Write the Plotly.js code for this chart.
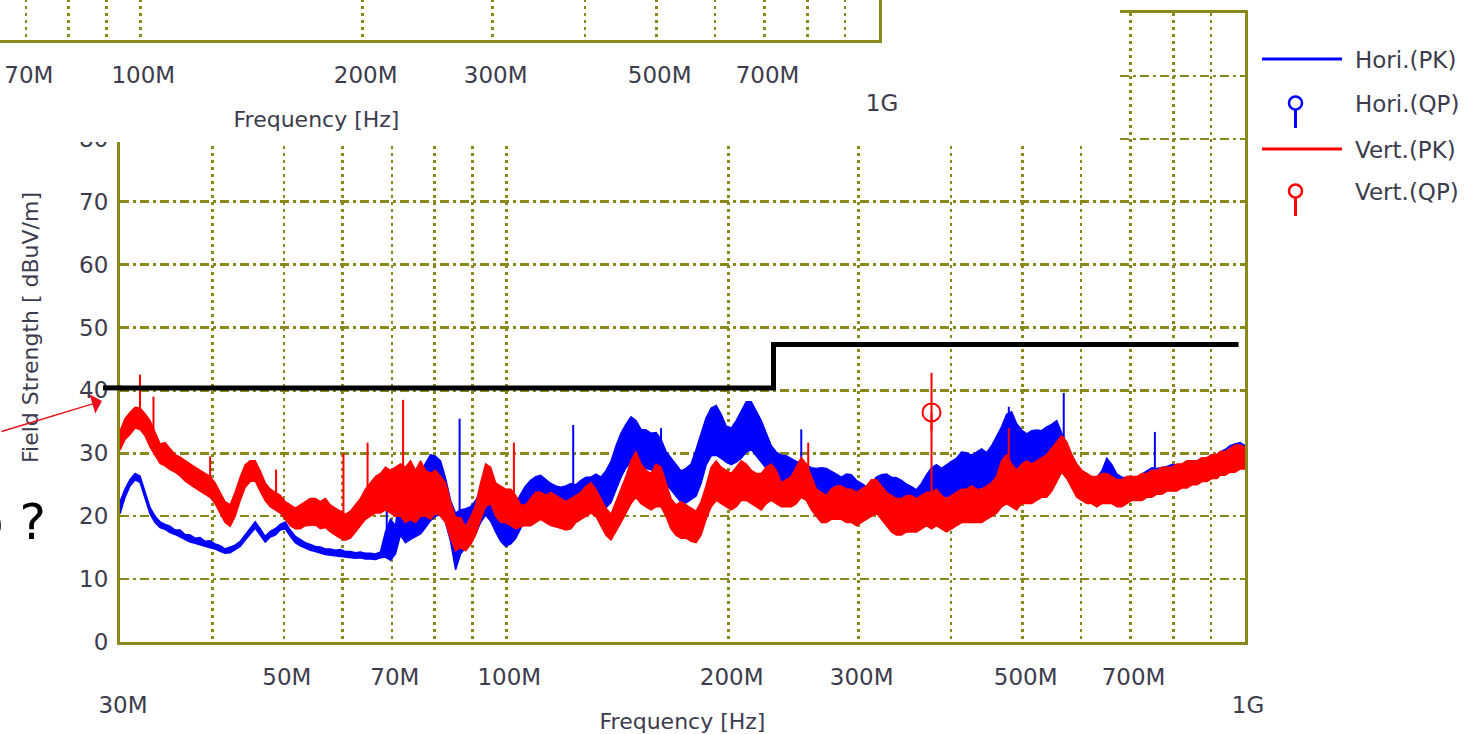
<!DOCTYPE html>
<html>
<head>
<meta charset="utf-8">
<script src="https://cdn.plot.ly/plotly-3.0.1.min.js"></script>
<style>
  html, body { margin: 0; padding: 0; background: #fff; }
  #wrap { position: relative; width: 1468px; height: 734px; overflow: hidden; background: #fff; }
  #main { position: absolute; left: 0; top: 0; width: 1468px; height: 734px; }
  #topclip { position: absolute; left: 0; top: 0; width: 1120px; height: 142px; overflow: hidden; background: #fff; }
  #top { position: absolute; left: -366px; top: -602px; width: 1468px; height: 734px; }
</style>
</head>
<body>
<div id="wrap">
  <div id="main"></div>
  <div id="topclip"><div id="top"></div></div>
</div>
<script>
// ---------------- DATA ----------------
const freqMHz = [
  30.00, 30.47, 30.95, 31.44, 31.93, 32.43, 32.94, 33.46, 33.99, 34.52,
  35.06, 35.61, 36.18, 36.74, 37.32, 37.91, 38.51, 39.11, 39.73, 40.35,
  40.99, 41.63, 42.29, 42.95, 43.63, 44.32, 45.02, 45.72, 46.44, 47.17,
  47.92, 48.67, 49.44, 50.22, 51.01, 51.81, 52.62, 53.45, 54.29, 55.15,
  56.02, 56.90, 57.79, 58.70, 59.63, 60.56, 61.52, 62.49, 63.47, 64.47,
  65.48, 66.51, 67.56, 68.62, 69.70, 70.80, 71.91, 73.04, 74.19, 75.36,
  76.55, 77.75, 78.97, 80.22, 81.48, 82.76, 84.06, 85.38, 86.73, 88.09,
  89.48, 90.89, 92.32, 93.77, 95.25, 96.75, 98.27, 99.81, 101.4, 103.0,
  104.6, 106.2, 107.9, 109.6, 111.3, 113.1, 114.9, 116.7, 118.5, 120.4,
  122.3, 124.2, 126.2, 128.2, 130.2, 132.2, 134.3, 136.4, 138.6, 140.8,
  143.0, 145.2, 147.5, 149.8, 152.2, 154.6, 157.0, 159.5, 162.0, 164.5,
  167.1, 169.7, 172.4, 175.1, 177.9, 180.7, 183.5, 186.4, 189.4, 192.4,
  195.4, 198.5, 201.6, 204.8, 208.0, 211.3, 214.6, 218.0, 221.4, 224.9,
  228.4, 232.0, 235.6, 239.3, 243.1, 246.9, 250.8, 254.8, 258.8, 262.9,
  267.0, 271.2, 275.4, 279.8, 284.2, 288.7, 293.2, 297.8, 302.5, 307.3,
  312.1, 317.0, 322.0, 327.1, 332.2, 337.4, 342.7, 348.1, 353.6, 359.2,
  364.8, 370.6, 376.4, 382.3, 388.3, 394.4, 400.6, 406.9, 413.3, 419.8,
  426.4, 433.1, 440.0, 446.9, 453.9, 461.0, 468.3, 475.7, 483.2, 490.8,
  498.5, 506.3, 514.3, 522.4, 530.6, 539.0, 547.5, 556.1, 564.8, 573.7,
  582.8, 591.9, 601.2, 610.7, 620.3, 630.1, 640.0, 650.1, 660.3, 670.7,
  681.2, 691.9, 702.8, 713.9, 725.1, 736.5, 748.1, 759.9, 771.9, 784.0,
  796.3, 808.8, 821.6, 834.5, 847.7, 861.0, 874.6, 888.3, 902.3, 916.5,
  925.1, 940.0, 954.3, 969.3, 984.5, 1000
];

// Horizontal polarisation, peak detector: upper / lower edge of the trace band (dBuV/m)
const horiPKMax = [
  22.3, 24.3, 25.8, 26.8, 26.4, 24.0, 21.4, 20.0, 19.1, 18.7,
  18.4, 17.8, 17.8, 17.1, 17.0, 16.5, 16.6, 16.0, 16.1, 15.6,
  15.3, 14.8, 15.1, 15.4, 16.0, 17.0, 18.1, 19.1, 18.0, 16.8,
  17.6, 18.0, 18.7, 19.1, 17.8, 16.8, 16.3, 15.8, 15.5, 15.2,
  15.1, 14.8, 14.8, 14.6, 14.7, 14.4, 14.4, 14.2, 14.3, 14.1,
  14.1, 14.0, 14.3, 17.5, 19.5, 18.5, 24.5, 26.5, 27.5, 26.5,
  27.0, 28.5, 29.8, 29.5, 28.8, 26.0, 22.5, 20.5, 21.0, 21.2,
  21.5, 22.5, 24.0, 25.5, 24.5, 22.5, 21.0, 20.3, 21.0, 22.0,
  23.5, 24.8, 25.7, 26.3, 26.5, 25.8, 25.2, 24.8, 24.6, 24.8,
  25.2, 25.0, 25.7, 26.2, 26.2, 26.7, 26.2, 27.2, 28.7, 31.2,
  33.2, 34.6, 35.8, 35.2, 33.8, 33.7, 33.2, 33.3, 32.2, 30.3,
  29.2, 28.2, 27.2, 27.6, 28.3, 30.6, 33.2, 35.6, 37.2, 37.6,
  36.2, 34.3, 34.0, 35.2, 36.7, 38.2, 38.2, 36.7, 35.2, 33.2,
  31.2, 30.2, 29.7, 29.6, 29.2, 28.7, 28.6, 28.2, 27.7, 27.6,
  27.7, 27.6, 27.2, 26.7, 26.2, 26.7, 26.6, 25.7, 25.2, 24.7,
  25.2, 26.2, 26.6, 26.7, 26.2, 26.1, 25.7, 25.1, 24.7, 24.2,
  25.2, 26.6, 27.7, 28.2, 27.6, 28.2, 28.7, 29.2, 30.2, 30.1,
  29.7, 30.2, 30.7, 30.1, 31.2, 32.7, 34.2, 36.2, 36.6, 34.7,
  33.7, 33.1, 33.6, 33.7, 33.6, 34.2, 34.6, 35.2, 33.2, 31.2,
  29.7, 28.2, 27.2, 26.2, 25.7, 26.2, 27.2, 29.2, 28.2, 26.7,
  26.2, 26.1, 26.2, 26.2, 26.7, 27.2, 27.7, 27.6, 27.7, 27.9,
  28.2, 28.1, 28.2, 28.5, 28.7, 28.8, 29.2, 29.3, 29.7, 29.8,
  30.2, 30.6, 31.2, 31.5, 31.7, 31.2
];
const horiPKMin = [
  20.4, 23.0, 24.8, 25.8, 25.4, 22.8, 20.4, 19.0, 18.2, 17.9,
  17.4, 17.1, 16.7, 16.4, 15.9, 15.7, 15.4, 15.2, 15.0, 14.8,
  14.4, 14.1, 14.2, 14.7, 15.2, 16.2, 17.2, 18.1, 17.0, 15.9,
  16.7, 17.0, 17.8, 18.0, 16.8, 15.8, 15.3, 14.9, 14.6, 14.4,
  14.1, 13.9, 13.8, 13.7, 13.7, 13.5, 13.5, 13.3, 13.4, 13.2,
  13.2, 13.1, 13.4, 13.5, 13.0, 14.0, 17.0, 15.8, 16.3, 16.8,
  17.2, 18.2, 19.3, 20.0, 20.3, 19.0, 16.0, 11.5, 14.0, 15.0,
  16.0, 17.2, 19.0, 20.2, 19.2, 17.5, 16.0, 15.2, 15.6, 16.5,
  18.2, 19.6, 20.2, 20.6, 21.0, 20.6, 20.2, 20.0, 20.0, 20.2,
  20.6, 20.2, 20.3, 20.8, 20.6, 21.2, 20.6, 21.3, 22.2, 24.2,
  26.2, 27.7, 28.6, 28.2, 27.6, 27.6, 27.4, 27.2, 27.0, 25.2,
  24.2, 23.2, 22.2, 22.1, 22.6, 23.2, 25.2, 28.1, 29.6, 29.7,
  29.2, 28.6, 28.2, 28.6, 29.2, 30.2, 30.6, 29.6, 28.6, 27.6,
  26.6, 26.1, 25.6, 25.1, 24.6, 23.6, 23.1, 22.6, 22.1, 22.1,
  22.6, 22.6, 22.6, 22.1, 22.1, 22.2, 22.0, 21.1, 21.0, 20.6,
  20.6, 21.1, 21.1, 21.0, 20.6, 20.6, 20.5, 20.1, 20.0, 19.6,
  20.1, 20.6, 21.1, 22.1, 22.6, 23.1, 23.1, 23.6, 24.1, 24.0,
  24.1, 24.0, 24.6, 24.1, 25.1, 26.1, 27.1, 28.1, 28.1, 27.6,
  27.1, 27.0, 27.6, 27.6, 28.1, 28.1, 28.6, 29.1, 29.1, 28.6,
  27.1, 25.6, 24.6, 23.6, 23.1, 23.1, 23.1, 24.1, 23.6, 23.6,
  23.6, 23.6, 24.1, 24.1, 24.1, 24.6, 25.1, 25.1, 25.1, 25.3,
  25.6, 25.6, 25.6, 25.8, 26.1, 26.2, 26.2, 26.4, 26.6, 26.8,
  27.1, 27.3, 27.6, 27.8, 28.1, 28.0
];

// Vertical polarisation, peak detector
const vertPKMax = [
  33.5, 35.5, 36.5, 37.3, 37.2, 36.3, 35.2, 33.3, 31.5, 31.7,
  30.8, 29.8, 29.4, 28.8, 28.3, 27.8, 27.3, 26.8, 26.3, 25.3,
  23.8, 22.3, 21.8, 23.8, 26.2, 28.2, 28.8, 28.8, 27.2, 25.3,
  24.3, 23.8, 23.3, 22.3, 21.8, 21.3, 21.8, 22.3, 22.8, 22.8,
  22.3, 22.8, 21.8, 21.3, 20.8, 20.3, 20.8, 21.8, 22.8, 24.3,
  25.3, 26.3, 26.8, 27.8, 27.3, 27.8, 28.3, 27.8, 28.8, 27.3,
  28.8, 27.3, 26.8, 27.3, 26.3, 25.3, 22.3, 19.8, 19.8, 18.3,
  19.8, 21.8, 25.3, 28.3, 27.8, 25.3, 24.8, 24.3, 24.3, 23.3,
  21.8, 21.8, 22.8, 23.8, 23.8, 23.3, 23.8, 23.3, 22.8, 22.3,
  22.8, 23.3, 23.8, 24.8, 25.3, 24.3, 22.8, 21.3, 20.3, 22.3,
  24.3, 26.3, 28.8, 30.3, 28.3, 27.3, 26.8, 28.3, 27.8, 25.3,
  22.8, 21.8, 22.3, 21.8, 21.3, 20.8, 22.3, 24.8, 27.8, 28.8,
  27.8, 27.3, 26.8, 27.8, 28.8, 28.3, 27.3, 26.8, 26.8, 27.8,
  28.3, 27.3, 25.3, 25.8, 26.3, 27.8, 29.3, 28.3, 26.3, 24.3,
  23.8, 23.3, 24.3, 24.8, 24.8, 24.3, 24.3, 23.8, 24.3, 24.8,
  25.8, 25.8, 24.8, 23.8, 23.3, 22.8, 22.8, 23.3, 23.3, 22.8,
  23.3, 23.8, 23.8, 24.3, 23.3, 22.8, 23.3, 23.8, 24.3, 24.3,
  24.8, 24.3, 24.3, 24.8, 25.3, 26.3, 28.8, 29.8, 28.3, 27.3,
  28.3, 28.8, 28.3, 28.8, 29.3, 29.8, 30.8, 31.8, 32.8, 31.8,
  29.8, 28.3, 27.3, 26.8, 26.3, 26.3, 26.8, 26.8, 26.3, 25.8,
  25.8, 26.3, 26.3, 26.3, 26.8, 26.8, 27.3, 27.3, 27.8, 27.8,
  27.8, 28.3, 28.3, 28.8, 28.8, 28.8, 29.3, 29.3, 29.8, 29.8,
  30.3, 30.3, 30.8, 31.3, 31.3, 31.0
];
const vertPKMin = [
  30.5, 32.2, 33.0, 34.0, 33.8, 32.8, 31.0, 29.8, 28.4, 28.0,
  27.4, 27.0, 26.4, 25.6, 25.0, 24.5, 24.0, 23.5, 23.0, 22.0,
  20.5, 19.0, 18.4, 20.0, 22.5, 24.6, 25.5, 25.6, 24.0, 22.5,
  21.5, 21.0, 20.5, 19.5, 18.5, 18.0, 18.0, 18.5, 18.5, 18.6,
  18.0, 18.2, 17.5, 17.0, 16.5, 16.2, 16.5, 17.5, 18.5, 19.5,
  20.0, 20.5, 20.5, 21.0, 20.5, 20.0, 20.0, 19.0, 19.5, 19.0,
  20.0, 20.0, 19.5, 20.5, 20.0, 19.0, 16.5, 14.5, 15.0, 14.5,
  15.5, 17.0, 19.5, 21.5, 22.0, 20.0, 19.0, 19.0, 18.5, 18.0,
  18.3, 18.5, 18.5, 19.0, 19.5, 19.0, 18.5, 18.3, 18.0, 17.8,
  18.0, 19.0, 19.5, 20.0, 20.5, 20.0, 18.5, 17.0, 16.2, 17.5,
  19.0, 20.5, 22.0, 23.0, 22.0, 21.5, 21.0, 21.5, 21.5, 20.0,
  18.0, 17.0, 16.5, 16.5, 16.0, 15.8, 17.0, 19.5, 21.5, 22.5,
  22.0, 21.5, 21.0, 21.5, 22.5, 22.5, 22.0, 21.5, 21.0, 22.0,
  22.5, 22.0, 21.5, 21.5, 21.5, 22.0, 23.0, 22.5, 21.0, 20.0,
  19.0, 19.0, 19.5, 19.5, 19.5, 19.0, 19.0, 18.5, 19.0, 19.5,
  20.0, 20.5, 19.5, 18.5, 17.5, 17.0, 17.0, 17.5, 17.5, 17.5,
  18.0, 18.5, 18.0, 18.5, 18.0, 17.5, 18.0, 18.5, 19.0, 19.0,
  19.0, 19.0, 19.0, 19.5, 20.0, 20.5, 21.5, 22.0, 21.5, 21.0,
  22.0, 22.0, 22.0, 22.5, 23.0, 23.0, 24.0, 25.5, 27.0, 26.0,
  24.5, 23.0, 22.5, 22.0, 22.0, 21.5, 22.0, 22.0, 22.0, 21.5,
  21.5, 22.0, 22.5, 22.5, 22.5, 23.0, 23.0, 23.5, 23.5, 24.0,
  24.0, 24.0, 24.5, 24.5, 25.0, 25.0, 25.5, 25.5, 26.0, 26.0,
  26.5, 26.5, 27.0, 27.0, 27.5, 27.5
];

// narrow spikes (frequency MHz, band level, peak level)
const horiSpikeFreq = [68.9, 86.46, 123.2, 162.0, 250.8, 478.9, 568.4, 755.1];
const horiSpikeBase = [14.0, 18.0, 22.0, 30.0, 26.0, 30.0, 30.0, 26.0];
const horiSpikeTop  = [21.0, 35.5, 34.5, 34.0, 33.8, 37.4, 39.6, 33.4];
const vertSpikeFreq = [31.93, 33.30, 39.73, 48.8, 60.2, 64.9, 72.5, 102.4, 256.3, 376.4, 478.9];
const vertSpikeBase = [35.0, 32.0, 24.0, 21.0, 18.0, 20.0, 22.0, 20.0, 24.0, 20.0, 25.0];
const vertSpikeTop  = [42.5, 39.0, 29.5, 27.4, 30.0, 31.7, 38.5, 31.7, 31.7, 42.8, 34.0];

// quasi-peak result
const vertQPFreq = [376.4];
const vertQPVal  = [36.5];

// limit line
const limitFreq = [30, 230, 230, 980];
const limitVal  = [40.4, 40.4, 47.3, 47.3];

const seriesNames = ['Hori.(PK)', 'Hori.(QP)', 'Vert.(PK)', 'Vert.(QP)'];
const seriesColors = ['#0000ff', '#0000ff', '#ff0000', '#ff0000'];

const xTickVals = [50, 70, 100, 200, 300, 500, 700];
const xTickText = ['50M', '70M', '100M', '200M', '300M', '500M', '700M'];
const xEdgeTickVals = [30, 1000];
const xEdgeTickText = ['30M', '1G'];
const xMinorGrid = [40, 60, 80, 90, 400, 600, 800, 900];
const yTickVals = [0, 10, 20, 30, 40, 50, 60, 70, 80, 90, 100];
const yTickText = ['0', '10', '20', '30', '40', '50', '60', '70', '80', '90', '100'];

// ---------------- FIGURE ----------------
const W = 1468, H = 734;
const FONT = 'DejaVu Sans, Verdana, sans-serif';
const TXT = '#3c3c4c';
const OLIVE = '#88881c';
const xDom = [120 / W, 1245 / W];
const yDom = [1 - 642 / H, 1 - 13 / H];
const xRange = [Math.log10(30), 3];

function spikeXY(f, base, top) {
  const x = [], y = [];
  f.forEach((v, i) => { x.push(v, v, null); y.push(base[i], top[i], null); });
  return { x, y };
}

function buildTraces() {
  const hs = spikeXY(horiSpikeFreq, horiSpikeBase, horiSpikeTop);
  const vs = spikeXY(vertSpikeFreq, vertSpikeBase, vertSpikeTop);
  return [
    { x: freqMHz, y: horiPKMin, type: 'scatter', mode: 'lines', name: seriesNames[0],
      line: { color: seriesColors[0], width: 1.5 }, showlegend: false, hoverinfo: 'skip' },
    { x: freqMHz, y: horiPKMax, type: 'scatter', mode: 'lines', name: seriesNames[0],
      line: { color: seriesColors[0], width: 1.5 }, fill: 'tonexty', fillcolor: seriesColors[0],
      showlegend: false, hoverinfo: 'skip' },
    { x: hs.x, y: hs.y, type: 'scatter', mode: 'lines', name: seriesNames[0],
      line: { color: seriesColors[0], width: 2 }, showlegend: false, hoverinfo: 'skip' },
    { x: freqMHz, y: vertPKMin, type: 'scatter', mode: 'lines', name: seriesNames[2],
      line: { color: seriesColors[2], width: 1.5 }, showlegend: false, hoverinfo: 'skip' },
    { x: freqMHz, y: vertPKMax, type: 'scatter', mode: 'lines', name: seriesNames[2],
      line: { color: seriesColors[2], width: 1.5 }, fill: 'tonexty', fillcolor: seriesColors[2],
      showlegend: false, hoverinfo: 'skip' },
    { x: vs.x, y: vs.y, type: 'scatter', mode: 'lines', name: seriesNames[2],
      line: { color: seriesColors[2], width: 2 }, showlegend: false, hoverinfo: 'skip' },
    { x: limitFreq, y: limitVal, type: 'scatter', mode: 'lines', name: 'Limit',
      line: { color: '#000000', width: 5 }, showlegend: false, hoverinfo: 'skip' },
    { x: vertQPFreq, y: vertQPVal, type: 'scatter', mode: 'markers', name: seriesNames[3],
      xaxis: 'x2', yaxis: 'y',
      marker: { symbol: 'circle-open', size: 18, color: seriesColors[3], line: { width: 2, color: seriesColors[3] } },
      error_y: { type: 'data', symmetric: false, array: [0], arrayminus: [3], color: seriesColors[3], thickness: 2, width: 0 },
      showlegend: false, hoverinfo: 'skip' }
  ];
}

function px(x) { return x / W; }
function py(y) { return 1 - y / H; }

function buildLayout() {
  const tickFont = { family: FONT, size: 23, color: TXT };
  const shapes = [
    // limit line continues a little left of the frame
    { type: 'line', xref: 'paper', yref: 'y', x0: px(103), x1: px(121), y0: limitVal[0], y1: limitVal[0],
      line: { color: '#000000', width: 5 } }
  ];
  const annotations = [];
  // custom legend (line sample / lollipop sample + text)
  const rowsY = [60, 104, 150, 192];
  seriesNames.forEach((name, i) => {
    const yc = rowsY[i];
    const col = seriesColors[i];
    if (i % 2 === 0) {
      shapes.push({ type: 'line', xref: 'paper', yref: 'paper', x0: px(1262), x1: px(1342),
        y0: py(yc - 1), y1: py(yc - 1), line: { color: col, width: 3 } });
    } else {
      const cy = yc - 1;
      shapes.push({ type: 'circle', xref: 'paper', yref: 'paper', x0: px(1289), x1: px(1302),
        y0: py(cy + 6.5), y1: py(cy - 6.5), line: { color: col, width: 2.5 } });
      shapes.push({ type: 'line', xref: 'paper', yref: 'paper', x0: px(1295.5), x1: px(1295.5),
        y0: py(cy + 6.5), y1: py(cy + 25), line: { color: col, width: 3 } });
    }
    annotations.push({ xref: 'paper', yref: 'paper', x: px(1353), y: py(yc), xanchor: 'left', yanchor: 'middle',
      text: name, showarrow: false, font: { family: FONT, size: 23, color: TXT } });
  });
  // red arrow
  annotations.push({ xref: 'paper', yref: 'paper', x: px(102), y: py(401), text: '', showarrow: true,
    ax: -104, ay: 31, axref: 'pixel', ayref: 'pixel', arrowhead: 1, arrowsize: 2.4, arrowwidth: 1.4,
    arrowcolor: '#e8101c', standoff: 0 });
  // question text at left edge
  annotations.push({ xref: 'paper', yref: 'paper', x: px(48), y: py(522), xanchor: 'right', yanchor: 'middle',
    text: 'o ?', showarrow: false, font: { family: FONT, size: 50, color: '#000000' } });

  return {
    width: W, height: H,
    margin: { l: 0, r: 0, t: 0, b: 0, pad: 0 },
    paper_bgcolor: '#ffffff', plot_bgcolor: '#ffffff',
    showlegend: false,
    font: { family: FONT, size: 22, color: TXT },
    xaxis: {
      type: 'log', domain: xDom, range: xRange, anchor: 'y',
      tickmode: 'array', tickvals: xTickVals, ticktext: xTickText, tickfont: tickFont,
      ticks: '', ticklabelstandoff: 12, ticklabelshift: 3,
      showgrid: true, gridcolor: OLIVE, gridwidth: 2.5, griddash: '3px,4px',
      minor: { tickmode: 'array', tickvals: xMinorGrid, showgrid: true, gridcolor: OLIVE, gridwidth: 2.5, griddash: '3px,4px', ticks: '' },
      showline: true, linecolor: OLIVE, linewidth: 3, mirror: true, zeroline: false,
      title: { text: 'Frequency [Hz]', font: { family: FONT, size: 22, color: TXT }, standoff: 26 }
    },
    xaxis2: {
      type: 'log', overlaying: 'x', anchor: 'y', side: 'bottom', range: xRange,
      tickmode: 'array', tickvals: xEdgeTickVals, ticktext: xEdgeTickText, tickfont: tickFont,
      ticks: '', ticklabelstandoff: 47, ticklabelshift: 3, showgrid: false, showline: false, zeroline: false
    },
    yaxis: {
      domain: yDom, range: [0, 100], anchor: 'x',
      tickmode: 'array', tickvals: yTickVals, ticktext: yTickText, tickfont: tickFont,
      ticks: '', ticklabelstandoff: 4,
      showgrid: true, gridcolor: OLIVE, gridwidth: 2.5, griddash: '9px,4px,3px,4px',
      showline: true, linecolor: OLIVE, linewidth: 3, mirror: true, zeroline: false,
      title: { text: 'Field Strength [ dBuV/m]', font: { family: FONT, size: 22, color: TXT }, standoff: 20 }
    },
    shapes: shapes,
    annotations: annotations
  };
}

const cfg = { displayModeBar: false, staticPlot: true };
Plotly.newPlot('main', buildTraces(), buildLayout(), cfg);
// the fragment of the upper (identical) chart that shows at the top of the screenshot
Plotly.newPlot('top', buildTraces(), buildLayout(), cfg);
</script>
</body>
</html>
